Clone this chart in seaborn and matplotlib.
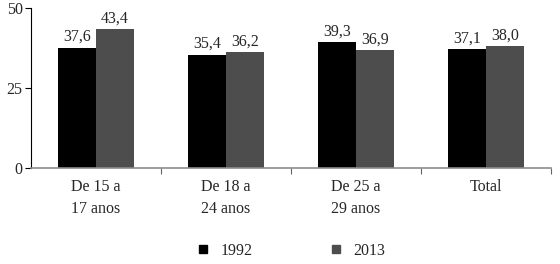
import matplotlib
matplotlib.use("Agg")
import matplotlib.pyplot as plt
import seaborn as sns
import pandas as pd
from matplotlib.lines import Line2D

categories = ["De 15 a\n17 anos", "De 18 a\n24 anos", "De 25 a\n29 anos", "Total"]
years = ["1992", "2013"]
values_1992 = [37.6, 35.4, 39.3, 37.1]
values_2013 = [43.4, 36.2, 36.9, 38.0]
labels_1992 = ["37,6", "35,4", "39,3", "37,1"]
labels_2013 = ["43,4", "36,2", "36,9", "38,0"]

df = pd.DataFrame({
    "cat": categories * 2,
    "year": [years[0]] * 4 + [years[1]] * 4,
    "val": values_1992 + values_2013,
})

sns.set_style("white")
plt.rcParams["font.family"] = ["Liberation Serif", "DejaVu Serif"]
colors = {"1992": "#000000", "2013": "#4d4d4d"}
fs = 11.5

fig = plt.figure(figsize=(5.6, 2.64), dpi=100)
ax = fig.add_axes([31/560, 1 - 168/264, 520/560, 160/264])
sns.barplot(data=df, x="cat", y="val", hue="year", palette=colors, ax=ax,
            width=0.59, saturation=1, legend=False, errorbar=None, linewidth=0)

for cont, labs in zip(ax.containers, [labels_1992, labels_2013]):
    ax.bar_label(cont, labels=labs, padding=2, fontsize=fs)

ax.set_ylim(0, 50)
ax.set_xlim(-0.5, 3.5)
ax.set_yticks([0, 25, 50])
ax.set_xlabel("")
ax.set_ylabel("")
for s in ["top", "right"]:
    ax.spines[s].set_visible(False)
ax.spines["left"].set_color("black")
ax.spines["left"].set_linewidth(0.8)
ax.spines["bottom"].set_color("#8c8c8c")
ax.spines["bottom"].set_linewidth(1.2)
ax.tick_params(axis="y", length=4, width=0.8, color="black", labelsize=fs, pad=2, left=True)
ax.tick_params(axis="x", which="major", length=0, labelsize=fs, pad=8)
ax.set_xticks([0.5, 1.5, 2.5, 3.5], minor=True)
ax.tick_params(axis="x", which="minor", length=4, width=0.8, color="#666666", bottom=True)
for t in ax.get_xticklabels():
    t.set_linespacing(1.5)

handles = [Line2D([], [], marker="s", linestyle="", color=colors[y], markersize=5.5) for y in years]
fig.legend(handles, years, loc="center", bbox_to_anchor=(0.518, 1 - 251/264), ncol=2,
           frameon=False, fontsize=fs, columnspacing=4.7, handletextpad=0.6, handlelength=1)

fig.savefig("out.png", dpi=100)
